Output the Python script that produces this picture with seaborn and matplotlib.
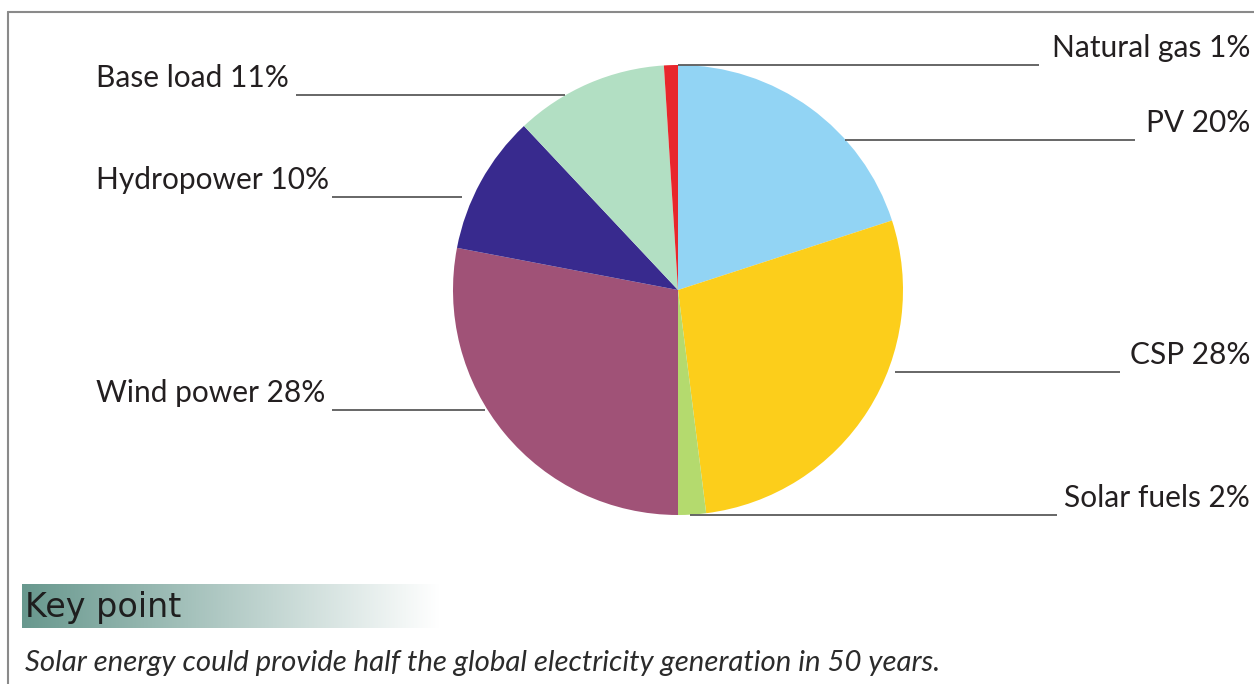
import numpy as np
import matplotlib
matplotlib.use("Agg")
import matplotlib.pyplot as plt
import seaborn as sns

# Data
categories = ["PV", "CSP", "Solar fuels", "Wind power", "Hydropower", "Base load", "Natural gas"]
shares = [20, 28, 2, 28, 10, 11, 1]
colors = ["#92d4f4", "#fcce1b", "#b4da6e", "#a05277", "#382a8e", "#b2dfc3", "#e8262c"]
labels = [f"{c} {v}%" for c, v in zip(categories, shares)]

sns.set_theme(style="white")
plt.rcParams['font.family'] = ['Lato', 'DejaVu Sans']

W, H = 1254, 684
fig = plt.figure(figsize=(W / 100, H / 100), dpi=100)
ax = fig.add_axes([0, 0, 1, 1])

cx, cy, r = 678, H - 290, 225
wedges, _ = ax.pie(shares, colors=sns.color_palette(colors), startangle=90, counterclock=False,
                   center=(cx, cy), radius=r, wedgeprops=dict(linewidth=0), frame=True)

# label layout: (line y in image px, line x start, line x end, side)
layout = {
    "Natural gas": (65, 678, 1039, "right"),
    "PV": (140, 845, 1135, "right"),
    "CSP": (372, 895, 1120, "right"),
    "Solar fuels": (515, 690, 1057, "right"),
    "Wind power": (410, 332, 485, "left"),
    "Hydropower": (197, 332, 462, "left"),
    "Base load": (95, 296, 565, "left"),
}
fs = 21.5
tc = "#231f20"
for cat, lab in zip(categories, labels):
    ly, x0, x1, side = layout[cat]
    ax.plot([x0, x1], [H - ly, H - ly], color="#5a5a5a", lw=1.3, zorder=1, solid_capstyle="butt")
    if side == "right":
        ax.text(1250, H - ly + 8, lab, ha="right", va="baseline", fontsize=fs, color=tc)
    else:
        ax.text(96, H - ly + 8, lab, ha="left", va="baseline", fontsize=fs, color=tc)

# frame lines
ax.plot([8, W], [H - 12, H - 12], color="#8a8a8a", lw=1.5)
ax.plot([8, 8], [H - 12, 0], color="#8a8a8a", lw=1.5)

# Key point gradient bar
grad = np.linspace(0, 1, 256)
c0 = np.array([0x68, 0x98, 0x8e]) / 255.0
img = np.zeros((1, 256, 3))
for i, g in enumerate(grad):
    t = min(1.0, g / 0.98)
    img[0, i] = c0 * (1 - t) + np.ones(3) * t
ax.imshow(img, extent=[22, 448, H - 628, H - 584], aspect="auto", zorder=0, interpolation="bilinear")
ax.text(25, H - 607, "Key point", ha="left", va="center", fontsize=24, color="#1e1e1e",
        family=["DejaVu Sans"])
ax.text(25, H - 663, "Solar energy could provide half the global electricity generation in 50 years.",
        ha="left", va="center", fontsize=21.2, style="italic", color="#2b2b2b")

ax.set_xlim(0, W)
ax.set_ylim(0, H)
ax.set_aspect("equal")
ax.axis("off")

fig.savefig("out.png", dpi=100)
